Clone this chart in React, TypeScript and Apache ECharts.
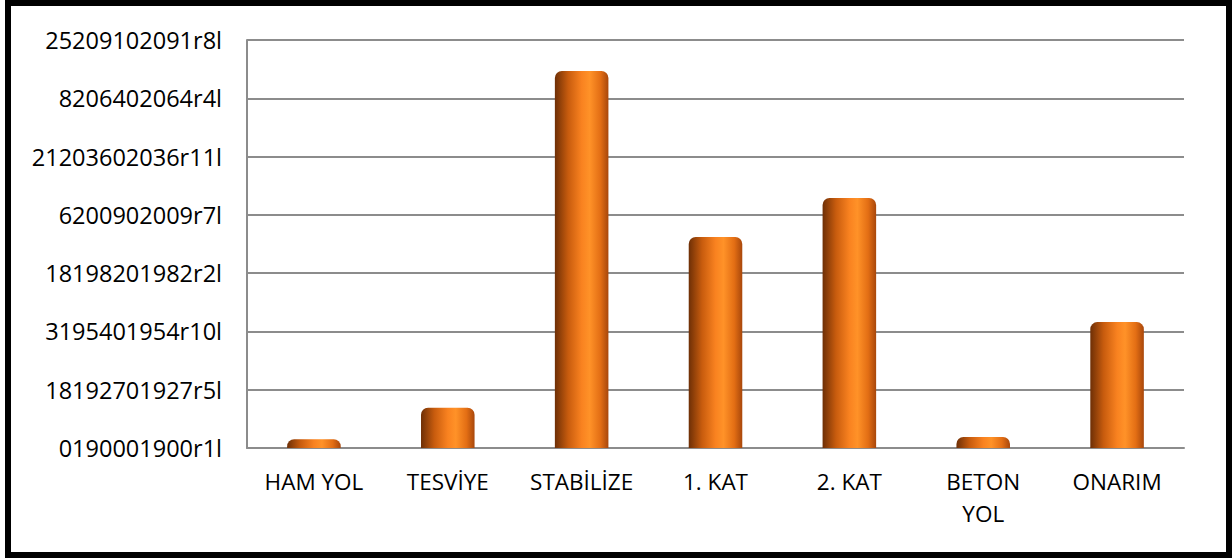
import React, { useEffect, useRef } from "react";
import * as echarts from "echarts";

const categories = ["HAM YOL", "TESVİYE", "STABİLİZE", "1. KAT", "2. KAT", "BETON\nYOL", "ONARIM"];
const values = [0.15, 0.69, 6.47, 3.62, 4.29, 0.19, 2.16];
const yTickLabels = [
  "0190001900r1l",
  "18192701927r5l",
  "3195401954r10l",
  "18198201982r2l",
  "6200902009r7l",
  "21203602036r11l",
  "8206402064r4l",
  "25209102091r8l",
];

export default function App() {
  const ref = useRef<HTMLDivElement>(null);
  useEffect(() => {
    if (!ref.current) return;
    const chart = echarts.init(ref.current, null, { renderer: "svg" });
    const font = "'Open Sans', 'Liberation Sans', sans-serif";
    chart.setOption({
      animation: false,
      backgroundColor: "#ffffff",
      grid: { left: 247, right: 48, top: 40, bottom: 110, containLabel: false },
      xAxis: {
        type: "category",
        data: categories,
        axisLine: { show: true, lineStyle: { color: "#8c8c8c", width: 2 } },
        axisTick: { show: false },
        axisLabel: {
          color: "#000",
          fontFamily: font,
          fontSize: 22.5,
          lineHeight: 32,
          margin: 17,
          interval: 0,
        },
      },
      yAxis: {
        type: "value",
        min: 0,
        max: 7,
        interval: 1,
        axisLine: { show: true, lineStyle: { color: "#8c8c8c", width: 2 } },
        axisTick: { show: false },
        splitLine: { show: true, lineStyle: { color: "#8c8c8c", width: 2 } },
        axisLabel: {
          color: "#000",
          fontFamily: font,
          fontSize: 23.5,
          margin: 25,
          formatter: (v: number) => yTickLabels[Math.round(v)] ?? "",
        },
      },
      series: [
        {
          type: "bar",
          data: values,
          barWidth: "40%",
          itemStyle: {
            borderRadius: [7, 7, 0, 0],
            color: new echarts.graphic.LinearGradient(0, 0, 1, 0, [
              { offset: 0, color: "#6e2f06" },
              { offset: 0.25, color: "#c85c0e" },
              { offset: 0.5, color: "#f98220" },
              { offset: 0.65, color: "#ff9228" },
              { offset: 0.85, color: "#e36e14" },
              { offset: 1, color: "#a8470b" },
            ]),
          },
        },
      ],
      graphic: [
        {
          type: "rect",
          shape: { x: 8, y: 3, width: 1221, height: 552 },
          style: { fill: "none", stroke: "#000", lineWidth: 6 },
          z: 100,
        },
      ],
    });
    return () => chart.dispose();
  }, []);
  return (
    <div
      ref={ref}
      style={{ position: "fixed", left: 0, top: 0, width: 1232, height: 558 }}
    />
  );
}
